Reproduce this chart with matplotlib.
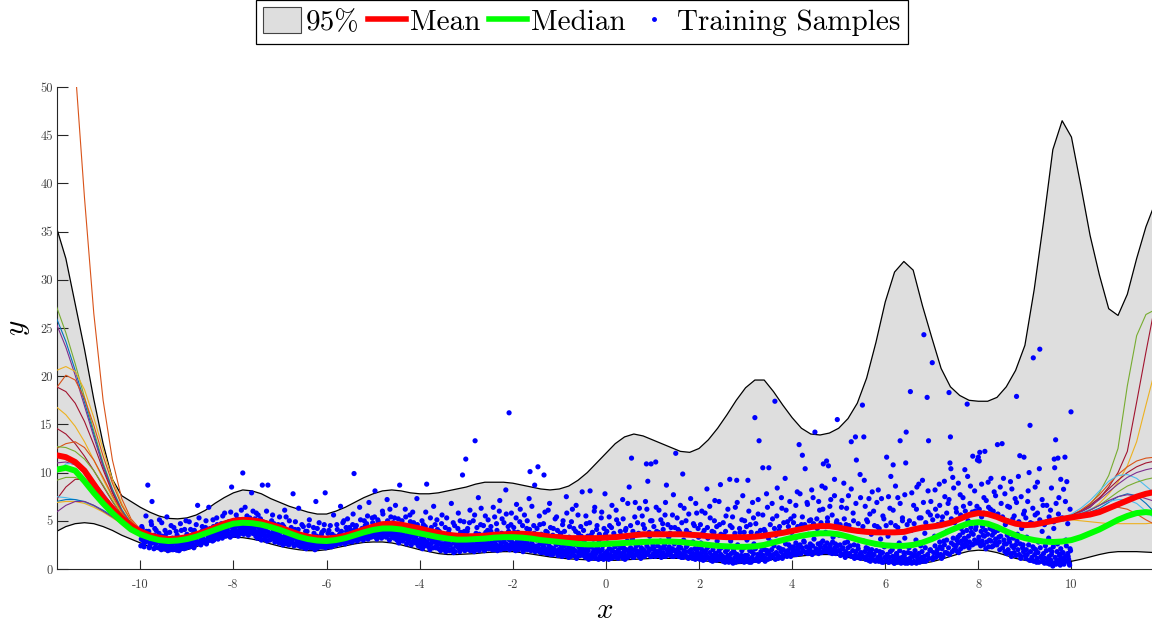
import numpy as np
import matplotlib
matplotlib.use('Agg')
import matplotlib.pyplot as plt
from matplotlib.lines import Line2D
from matplotlib.patches import Patch

plt.rcParams['font.family'] = ['cmr10', 'DejaVu Serif']
plt.rcParams['mathtext.fontset'] = 'cm'
plt.rcParams['axes.unicode_minus'] = False

# prediction grid
x_grid = np.round(np.arange(-11.8, 11.81, 0.2), 1)

upper = [35.4, 32.2, 27.5, 22.8, 17.6, 13.0, 9.3, 7.6, 7.0, 6.4,
         5.9, 5.5, 5.25, 5.2, 5.3, 5.6, 6.1, 6.8, 7.4, 7.9,
         8.2, 8.1, 7.8, 7.3, 6.9, 6.5, 6.2, 5.9, 5.7, 5.7,
         6.0, 6.4, 6.9, 7.4, 7.8, 8.1, 8.2, 8.1, 7.9, 7.8,
         7.8, 7.9, 8.1, 8.3, 8.5, 8.8, 9.0, 9.0, 9.0, 8.9,
         8.7, 8.5, 8.3, 8.2, 8.3, 8.6, 9.2, 10.0, 11.0, 12.0,
         13.0, 13.7, 14.0, 13.8, 13.4, 13.0, 12.6, 12.2, 12.1, 12.5,
         13.4, 14.6, 16.0, 17.5, 18.8, 19.6, 19.6, 18.4, 17.0, 15.7,
         14.6, 14.0, 13.9, 14.1, 14.6, 15.6, 17.2, 19.8, 23.5, 27.7,
         30.8, 31.9, 31.0, 27.3, 24.0, 20.8, 18.9, 18.0, 17.5, 17.4,
         17.4, 17.8, 18.9, 20.6, 23.2, 29.0, 36.0, 43.5, 46.5, 44.8,
         39.8, 34.6, 30.5, 27.0, 26.3, 28.5, 32.2, 35.5, 38.0]

lower = [3.9, 4.4, 4.7, 4.8, 4.7, 4.4, 4.0, 3.5, 3.1, 2.7,
         2.3, 2.0, 1.8, 1.85, 2.0, 2.3, 2.7, 3.0, 3.25, 3.3,
         3.25, 3.1, 2.9, 2.6, 2.35, 2.15, 2.0, 1.9, 1.9, 2.0,
         2.2, 2.4, 2.6, 2.75, 2.8, 2.8, 2.7, 2.5, 2.25, 2.0,
         1.8, 1.6, 1.5, 1.5, 1.55, 1.6, 1.7, 1.75, 1.8, 1.8,
         1.7, 1.55, 1.4, 1.25, 1.15, 1.05, 1.0, 0.95, 0.9, 0.9,
         0.9, 0.95, 1.0, 1.05, 1.1, 1.1, 1.1, 1.1, 1.0, 0.9,
         0.8, 0.7, 0.6, 0.55, 0.6, 0.7, 0.85, 1.0, 1.15, 1.25,
         1.35, 1.45, 1.5, 1.5, 1.4, 1.2, 1.0, 0.85, 0.7, 0.6,
         0.55, 0.5, 0.5, 0.6, 0.75, 1.0, 1.3, 1.6, 1.85, 1.95,
         1.9, 1.7, 1.4, 1.1, 0.9, 0.7, 0.6, 0.6, 0.65, 0.8,
         1.0, 1.25, 1.5, 1.7, 1.8, 1.8, 1.8, 1.75, 1.7]

mean = [11.8, 11.6, 11.1, 10.2, 8.8, 7.4, 6.3, 5.3, 4.5, 3.9,
        3.5, 3.25, 3.1, 3.15, 3.3, 3.6, 3.9, 4.3, 4.7, 5.0,
        5.1, 5.05, 4.9, 4.6, 4.3, 3.95, 3.6, 3.35, 3.2, 3.15,
        3.25, 3.45, 3.75, 4.1, 4.4, 4.65, 4.7, 4.6, 4.4, 4.2,
        3.95, 3.75, 3.55, 3.45, 3.4, 3.4, 3.45, 3.55, 3.6, 3.65,
        3.65, 3.6, 3.5, 3.35, 3.3, 3.2, 3.2, 3.2, 3.2, 3.25,
        3.3, 3.4, 3.5, 3.6, 3.6, 3.6, 3.6, 3.6, 3.55, 3.5,
        3.4, 3.35, 3.3, 3.3, 3.3, 3.35, 3.45, 3.6, 3.75, 3.95,
        4.15, 4.35, 4.45, 4.45, 4.3, 4.1, 3.95, 3.85, 3.8, 3.8,
        3.8, 3.85, 4.1, 4.3, 4.4, 4.55, 4.8, 5.2, 5.6, 5.8,
        5.7, 5.4, 5.0, 4.7, 4.55, 4.6, 4.8, 5.0, 5.2, 5.35,
        5.5, 5.65, 5.9, 6.3, 6.7, 7.1, 7.5, 7.8, 8.0]

median = [10.3, 10.5, 10.2, 9.1, 7.9, 6.8, 5.8, 4.9, 4.1, 3.6,
          3.25, 3.0, 2.9, 2.95, 3.1, 3.35, 3.7, 4.05, 4.4, 4.7,
          4.8, 4.75, 4.6, 4.35, 4.05, 3.7, 3.35, 3.1, 2.95, 2.9,
          3.0, 3.2, 3.5, 3.8, 4.05, 4.2, 4.2, 4.1, 3.9, 3.7,
          3.5, 3.3, 3.15, 3.05, 3.05, 3.1, 3.15, 3.25, 3.3, 3.3,
          3.25, 3.15, 3.0, 2.9, 2.8, 2.7, 2.6, 2.55, 2.55, 2.6,
          2.65, 2.7, 2.75, 2.8, 2.85, 2.85, 2.85, 2.8, 2.7, 2.6,
          2.5, 2.4, 2.35, 2.3, 2.3, 2.35, 2.5, 2.75, 3.0, 3.25,
          3.45, 3.6, 3.7, 3.7, 3.6, 3.35, 3.05, 2.8, 2.6, 2.45,
          2.4, 2.4, 2.5, 2.75, 3.1, 3.55, 4.0, 4.4, 4.75, 4.85,
          4.7, 4.35, 3.9, 3.5, 3.2, 3.0, 2.85, 2.8, 2.85, 3.0,
          3.3, 3.7, 4.1, 4.6, 5.1, 5.5, 5.8, 5.9, 5.8]

# posterior sample paths outside the training range
x_left = np.round(np.arange(-11.8, -9.79, 0.2), 1)
x_right = np.round(np.arange(9.8, 11.81, 0.2), 1)

paths_left = [
    ('#D95319', [80.0, 68.0, 52.0, 38.5, 26.5, 17.5, 11.3, 7.3, 5.2, 4.1, 3.6]),
    ('#77AC30', [27.2, 24.5, 21.3, 17.8, 14.3, 11.0, 8.3, 6.2, 4.8, 4.0, 3.6]),
    ('#0072BD', [26.0, 23.6, 20.6, 17.3, 14.0, 10.8, 8.2, 6.1, 4.7, 4.0, 3.6]),
    ('#7E2F8E', [25.4, 23.0, 20.1, 16.9, 13.7, 10.6, 8.0, 6.0, 4.7, 3.9, 3.5]),
    ('#EDB120', [20.6, 21.0, 20.5, 18.6, 15.7, 12.4, 9.3, 6.8, 5.0, 4.0, 3.6]),
    ('#D95319', [18.8, 20.1, 19.6, 17.7, 14.9, 11.7, 8.9, 6.6, 5.0, 4.0, 3.6]),
    ('#A2142F', [18.9, 18.4, 17.2, 15.3, 12.9, 10.3, 7.9, 5.9, 4.6, 3.9, 3.5]),
    ('#EDB120', [16.8, 16.0, 14.8, 13.2, 11.3, 9.3, 7.4, 5.8, 4.6, 3.9, 3.5]),
    ('#A2142F', [14.6, 14.0, 13.0, 11.7, 10.2, 8.6, 7.0, 5.6, 4.5, 3.8, 3.5]),
    ('#D95319', [12.5, 13.0, 13.2, 12.6, 11.3, 9.5, 7.6, 5.9, 4.6, 3.8, 3.5]),
    ('#77AC30', [12.7, 12.6, 12.2, 11.4, 10.2, 8.7, 7.1, 5.6, 4.5, 3.8, 3.5]),
    ('#7E2F8E', [11.0, 11.1, 10.8, 10.1, 9.1, 7.9, 6.6, 5.4, 4.4, 3.8, 3.5]),
    ('#4DBEEE', [10.0, 10.9, 11.0, 10.3, 9.1, 7.7, 6.3, 5.1, 4.3, 3.7, 3.4]),
    ('#77AC30', [9.2, 9.5, 9.5, 9.1, 8.3, 7.3, 6.2, 5.1, 4.3, 3.7, 3.4]),
    ('#A2142F', [7.2, 8.5, 9.3, 9.3, 8.7, 7.6, 6.4, 5.2, 4.3, 3.7, 3.4]),
    ('#4DBEEE', [7.5, 7.4, 7.2, 6.9, 6.5, 6.0, 5.4, 4.8, 4.2, 3.7, 3.4]),
    ('#0072BD', [7.0, 7.2, 7.2, 7.0, 6.6, 6.1, 5.5, 4.8, 4.2, 3.7, 3.4]),
    ('#EDB120', [6.9, 7.0, 7.0, 6.8, 6.4, 5.9, 5.3, 4.7, 4.1, 3.7, 3.4]),
    ('#7E2F8E', [5.9, 6.6, 7.0, 7.0, 6.6, 6.0, 5.4, 4.7, 4.1, 3.7, 3.4]),
]

paths_right = [
    ('#77AC30', [5.3, 5.5, 5.9, 6.7, 7.9, 9.7, 12.5, 19.0, 24.2, 26.4, 26.9]),
    ('#A2142F', [5.3, 5.5, 5.9, 6.4, 7.3, 8.5, 10.0, 12.2, 17.3, 22.5, 27.5]),
    ('#EDB120', [5.3, 5.4, 5.7, 6.1, 6.8, 7.8, 9.0, 10.7, 13.2, 17.0, 20.7]),
    ('#D95319', [5.3, 5.6, 6.1, 6.8, 7.7, 8.8, 9.8, 10.6, 11.2, 11.5, 11.6]),
    ('#A2142F', [5.3, 5.6, 6.0, 6.6, 7.4, 8.3, 9.2, 10.0, 10.6, 11.0, 11.2]),
    ('#4DBEEE', [5.3, 5.7, 6.3, 7.1, 8.1, 9.1, 9.7, 9.8, 9.4, 8.6, 7.8]),
    ('#7E2F8E', [5.2, 5.5, 5.9, 6.5, 7.2, 8.0, 8.8, 9.5, 10.0, 10.3, 10.5]),
    ('#0072BD', [5.2, 5.4, 5.6, 5.9, 6.3, 6.9, 7.5, 7.8, 7.6, 6.8, 5.8]),
    ('#4DBEEE', [5.2, 5.5, 5.8, 6.2, 6.6, 7.0, 7.2, 7.2, 6.8, 6.0, 5.2]),
    ('#EDB120', [5.1, 5.1, 5.0, 4.9, 4.8, 4.7, 4.7, 4.7, 4.7, 4.7, 4.8]),
    ('#D95319', [5.2, 5.3, 5.5, 5.7, 6.0, 6.3, 6.4, 6.2, 5.7, 5.1, 4.6]),
    ('#77AC30', [5.2, 5.4, 5.7, 6.1, 6.6, 7.3, 8.0, 8.6, 9.0, 9.3, 9.5]),
    ('#7E2F8E', [5.2, 5.4, 5.7, 6.1, 6.6, 7.1, 7.5, 7.7, 7.6, 7.3, 7.0]),
]

# training samples, "x y" pairs: spread-out observations
samples_txt = """
-9.98 3.1 -9.96 4.2 -9.93 2.6 -9.9 3.6 -9.88 5.5 -9.86 2.9 -9.84 8.7 -9.82 3.9 -9.8 2.4 -9.78 3.3 -9.76 4.6 -9.75 7.0
-9.73 2.7 -9.7 3.5 -9.68 2.2 -9.66 4.0 -9.63 2.9 -9.6 3.7 -9.58 2.3 -9.56 3.2 -9.54 4.8 -9.52 2.6 -9.51 3.0
-9.49 2.1 -9.47 3.4 -9.45 2.6 -9.43 5.4 -9.41 1.9 -9.39 2.9 -9.37 3.8 -9.35 2.3 -9.32 3.1 -9.3 2.0 -9.28 4.3 -9.26 2.7
-9.24 2.2 -9.21 3.5 -9.19 2.5 -9.17 1.9 -9.15 3.0 -9.12 4.0 -9.1 2.4 -9.08 2.8 -9.06 2.1 -9.04 3.3 -9.02 5.0
-8.99 2.5 -8.97 3.2 -8.94 2.3 -8.92 4.1 -8.9 2.9 -8.87 3.6 -8.85 2.2 -8.83 3.0 -8.8 4.6 -8.77 6.6 -8.75 2.7 -8.73 3.4
-8.7 2.5 -8.68 3.9 -8.65 3.1 -8.63 2.8 -8.6 4.3 -8.58 2.6 -8.55 3.5 -8.53 6.4 -8.52 3.0
-8.49 3.0 -8.47 3.8 -8.45 2.9 -8.43 4.4 -8.4 3.3 -8.38 3.6 -8.36 5.3 -8.33 3.1 -8.31 4.0 -8.28 3.5 -8.26 4.7 -8.24 3.2
-8.21 3.9 -8.19 5.8 -8.17 3.4 -8.14 4.2 -8.12 3.7 -8.1 4.9 -8.07 3.3 -8.05 4.4 -8.04 8.5 -8.02 3.6
-7.99 3.5 -7.97 4.3 -7.95 3.8 -7.92 5.2 -7.9 3.4 -7.88 4.6 -7.85 4.0 -7.83 6.1 -7.8 9.96 -7.78 3.6 -7.76 4.8 -7.73 4.1
-7.71 5.5 -7.68 3.5 -7.66 4.4 -7.63 3.9 -7.61 7.9 -7.6 5.0 -7.57 3.7 -7.55 4.5 -7.52 3.4 -7.51 5.8
-7.49 3.2 -7.46 4.3 -7.44 3.7 -7.42 5.2 -7.4 3.0 -7.38 8.7 -7.36 4.0 -7.33 3.4 -7.31 4.8 -7.28 2.9 -7.26 8.7 -7.24 3.6
-7.21 4.4 -7.19 3.1 -7.16 5.6 -7.14 3.8 -7.11 2.8 -7.09 4.1 -7.06 3.3 -7.04 4.6 -7.02 2.7
-6.99 3.0 -6.97 3.9 -6.94 2.5 -6.92 4.4 -6.9 6.1 -6.88 3.3 -6.85 2.6 -6.83 3.7 -6.8 5.0 -6.78 2.9 -6.75 3.5 -6.72 7.8
-6.7 2.4 -6.68 4.1 -6.65 3.2 -6.63 2.7 -6.6 6.3 -6.58 3.6 -6.55 2.3 -6.53 4.6 -6.51 3.0
-6.49 2.4 -6.47 3.3 -6.44 2.1 -6.42 3.9 -6.4 2.7 -6.37 5.1 -6.35 2.2 -6.32 3.0 -6.3 2.5 -6.28 4.3 -6.25 2.0 -6.23 7.0
-6.21 3.4 -6.18 2.6 -6.16 4.8 -6.13 2.3 -6.11 3.6 -6.08 2.8 -6.06 4.0 -6.03 7.9 -6.01 2.4
-5.99 2.9 -5.97 3.7 -5.94 2.3 -5.92 4.5 -5.9 3.1 -5.87 2.6 -5.85 5.6 -5.82 3.4 -5.8 2.5 -5.77 4.1 -5.75 2.9 -5.72 3.6
-5.7 6.5 -5.67 2.7 -5.65 4.8 -5.62 3.2 -5.6 2.6 -5.57 3.9 -5.55 5.2 -5.53 2.9 -5.51 4.3
-5.49 3.1 -5.47 4.0 -5.45 2.8 -5.43 5.7 -5.41 9.9 -5.39 3.5 -5.36 4.5 -5.34 2.9 -5.31 3.8 -5.29 6.4 -5.26 3.2 -5.24 4.2
-5.21 3.0 -5.19 5.0 -5.16 3.6 -5.14 4.7 -5.11 3.1 -5.09 6.9 -5.06 3.9 -5.04 3.3 -5.02 5.3
-4.99 3.4 -4.96 8.1 -4.94 4.3 -4.92 3.1 -4.9 5.1 -4.87 3.7 -4.85 4.6 -4.82 3.2 -4.8 6.0 -4.77 3.9 -4.75 4.4 -4.72 3.3
-4.7 7.2 -4.67 4.1 -4.65 3.0 -4.62 5.4 -4.6 3.6 -4.57 4.8 -4.55 3.2 -4.52 6.6 -4.51 3.8
-4.49 3.0 -4.47 4.2 -4.45 2.7 -4.43 8.7 -4.41 3.5 -4.38 5.0 -4.36 2.9 -4.33 3.9 -4.31 6.2 -4.28 2.6 -4.26 4.4 -4.23 3.2
-4.21 5.6 -4.18 2.5 -4.16 3.7 -4.13 4.8 -4.11 2.8 -4.08 3.4 -4.06 7.3 -4.03 2.4 -4.01 4.1
-3.99 2.3 -3.97 3.6 -3.94 2.1 -3.92 4.6 -3.9 3.0 -3.87 5.9 -3.85 8.8 -3.83 2.5 -3.8 3.8 -3.78 2.0 -3.75 4.3 -3.73 2.8
-3.7 6.5 -3.68 3.3 -3.65 2.2 -3.63 5.1 -3.6 2.6 -3.58 3.9 -3.55 1.9 -3.53 4.7 -3.51 3.1
-3.49 2.2 -3.47 3.5 -3.44 1.8 -3.42 5.3 -3.4 2.7 -3.37 4.1 -3.35 2.0 -3.32 6.8 -3.3 3.0 -3.27 1.7 -3.25 4.5 -3.22 2.4
-3.2 3.4 -3.17 5.8 -3.15 2.1 -3.12 3.8 -3.1 2.6 -3.08 9.75 -3.05 4.9 -3.03 1.9 -3.01 11.4
-2.99 2.9 -2.97 4.2 -2.94 2.0 -2.92 6.1 -2.9 3.3 -2.87 2.4 -2.85 5.0 -2.83 1.8 -2.81 13.3 -2.79 3.7 -2.76 2.2 -2.74 7.4
-2.71 3.0 -2.69 4.6 -2.66 2.5 -2.64 3.5 -2.61 1.9 -2.59 5.5 -2.56 2.8 -2.54 4.0 -2.52 2.1
-2.49 2.6 -2.47 3.9 -2.44 2.0 -2.42 6.4 -2.4 3.2 -2.37 2.3 -2.35 4.7 -2.33 1.9 -2.3 3.6 -2.28 7.1 -2.25 2.7 -2.23 5.2
-2.2 2.1 -2.17 3.4 -2.15 8.2 -2.13 2.5 -2.1 4.4 -2.08 16.2 -2.06 3.0 -2.03 5.8 -2.01 2.2
-1.99 2.4 -1.97 3.8 -1.94 1.9 -1.92 6.7 -1.9 3.1 -1.87 2.2 -1.85 4.9 -1.83 2.8 -1.8 3.5 -1.78 1.8 -1.75 5.6 -1.73 2.6
-1.7 4.2 -1.68 2.0 -1.65 7.3 -1.63 10.1 -1.6 3.3 -1.58 2.3 -1.55 4.5 -1.53 8.7 -1.51 1.9
-1.49 3.0 -1.46 10.6 -1.44 2.1 -1.42 4.6 -1.4 1.7 -1.37 3.4 -1.35 2.5 -1.33 9.75 -1.31 5.9 -1.28 1.6 -1.26 3.8 -1.23 2.2
-1.21 6.8 -1.18 1.5 -1.16 2.9 -1.13 4.2 -1.11 1.9 -1.08 3.3 -1.06 5.4 -1.03 1.4 -1.01 2.6
-0.99 2.0 -0.97 3.7 -0.94 1.3 -0.92 5.0 -0.9 2.4 -0.87 1.6 -0.85 7.5 -0.83 3.1 -0.8 1.2 -0.78 4.4 -0.75 2.1 -0.72 6.2
-0.7 1.5 -0.68 2.8 -0.65 3.9 -0.63 1.1 -0.6 5.6 -0.58 2.3 -0.55 1.4 -0.53 3.4 -0.51 8.0
-0.49 1.8 -0.47 2.9 -0.44 1.2 -0.42 4.7 -0.4 2.2 -0.37 1.0 -0.34 8.1 -0.32 3.5 -0.3 1.5 -0.27 2.6 -0.25 6.0 -0.22 1.1
-0.2 4.1 -0.17 1.9 -0.15 3.0 -0.12 1.3 -0.1 5.3 -0.07 2.4 -0.05 1.0 -0.02 7.8 -0.01 3.6
0.01 1.4 0.03 2.7 0.06 1.0 0.08 4.5 0.11 2.0 0.13 6.6 0.16 1.2 0.18 3.3 0.21 1.7 0.23 5.1 0.26 1.1 0.28 2.5
0.31 3.9 0.33 1.5 0.36 7.2 0.38 2.2 0.41 1.0 0.43 4.2 0.46 2.9 0.48 1.3 0.5 8.5
0.52 1.9 0.55 11.5 0.57 3.1 0.6 1.2 0.62 5.4 0.65 2.4 0.67 1.5 0.7 3.7 0.72 6.3 0.75 1.1 0.77 2.8 0.8 4.6
0.82 1.7 0.85 7.0 0.87 10.9 0.9 9.1 0.92 2.1 0.94 3.4 0.97 10.9 0.98 1.3 0.99 5.0
1.01 2.5 1.04 1.4 1.07 11.1 1.09 3.9 1.12 1.8 1.14 6.1 1.17 2.9 1.19 1.2 1.22 4.7 1.24 2.2 1.27 5.6 1.3 8.7
1.32 1.5 1.35 3.3 1.37 2.0 1.4 4.3 1.42 1.3 1.45 7.7 1.47 2.6 1.49 3.6
1.5 12.0 1.52 1.6 1.55 4.1 1.57 2.3 1.6 6.6 1.62 1.2 1.65 9.85 1.67 3.0 1.7 1.8 1.72 5.0 1.75 2.5 1.77 1.1
1.8 3.7 1.82 7.3 1.85 1.5 1.87 2.8 1.9 4.5 1.92 1.0 1.95 5.8 1.97 2.1 1.99 3.3
2.01 1.4 2.04 2.7 2.06 6.0 2.09 0.9 2.11 4.0 2.14 1.9 2.17 8.3 2.19 3.2 2.22 1.1 2.24 5.3 2.27 2.4 2.29 0.8
2.32 3.8 2.34 7.1 2.37 1.6 2.39 2.9 2.42 1.0 2.44 4.6 2.46 8.75 2.48 2.2
2.51 1.3 2.53 3.5 2.56 0.7 2.58 5.5 2.61 2.0 2.63 1.0 2.66 9.3 2.68 2.9 2.71 4.3 2.73 0.6 2.76 1.7 2.78 6.4
2.81 9.2 2.83 2.5 2.86 0.8 2.88 3.8 2.91 1.4 2.94 7.6 2.96 2.2 2.98 5.0
3.01 1.1 3.03 3.0 3.05 9.2 3.08 0.7 3.1 4.6 3.13 1.8 3.15 6.9 3.18 2.6 3.2 15.7 3.22 0.9 3.25 3.7 3.27 5.7
3.29 13.3 3.32 1.5 3.34 2.3 3.37 10.5 3.4 4.1 3.42 0.8 3.45 7.8 3.47 1.9 3.49 3.2
3.5 10.5 3.52 1.2 3.55 2.8 3.58 5.2 3.6 1.5 3.63 17.4 3.65 3.5 3.68 8.4 3.7 1.1 3.73 4.4 3.75 2.1 3.78 6.3
3.8 1.4 3.83 3.0 3.85 9.4 3.88 1.8 3.9 4.9 3.93 2.5 3.95 7.0 3.97 1.3 3.99 3.8
4.01 2.0 4.04 5.5 4.06 1.5 4.09 3.3 4.11 8.0 4.13 2.4 4.15 12.9 4.18 1.6 4.2 4.6 4.22 11.8 4.25 2.9 4.28 10.4
4.3 1.7 4.33 6.7 4.35 3.6 4.38 2.2 4.4 5.1 4.43 1.5 4.45 7.4 4.47 3.1 4.49 14.2
4.52 2.0 4.54 4.2 4.57 1.6 4.59 6.1 4.62 2.7 4.64 8.6 4.67 10.9 4.69 1.8 4.72 3.8 4.74 11.2 4.76 5.3 4.78 10.7
4.81 2.3 4.83 7.2 4.86 1.6 4.88 3.3 4.91 9.3 4.93 2.6 4.95 4.8 4.97 15.5 4.99 1.9
5.01 3.5 5.04 1.4 5.06 6.4 5.09 2.2 5.11 8.9 5.14 1.2 5.16 4.6 5.19 2.8 5.21 7.6 5.24 1.5 5.27 13.2 5.29 3.2
5.31 5.8 5.34 1.1 5.36 13.7 5.38 11.3 5.41 2.4 5.43 4.0 5.46 9.8 5.48 1.7
5.51 17.0 5.53 2.9 5.54 13.7 5.55 9.2 5.58 1.0 5.6 5.1 5.63 2.1 5.65 7.3 5.68 0.8 5.7 3.6 5.73 1.5 5.75 6.0
5.78 2.6 5.8 0.9 5.83 4.4 5.85 8.2 5.88 1.8 5.9 3.1 5.93 0.7 5.95 5.5 5.98 2.3
6.01 1.2 6.03 11.6 6.06 3.4 6.08 0.7 6.1 6.3 6.12 9.6 6.15 2.0 6.17 10.8 6.2 0.6 6.22 4.5 6.25 1.4 6.27 7.4
6.3 2.7 6.32 13.3 6.35 0.8 6.37 5.0 6.4 1.7 6.42 3.2 6.44 11.0 6.45 14.2 6.48 0.6
6.51 2.2 6.54 18.4 6.56 4.0 6.58 0.7 6.61 6.6 6.63 1.5 6.66 3.0 6.68 8.5 6.71 0.9 6.73 5.3 6.76 2.4 6.78 1.2
6.8 9.2 6.83 24.3 6.85 3.7 6.87 0.8 6.9 17.8 6.92 5.9 6.93 13.3 6.96 1.9 6.98 7.0
7.01 21.4 7.03 1.2 7.06 3.4 7.08 6.2 7.11 1.6 7.13 4.6 7.16 8.8 7.18 2.3 7.21 1.1 7.23 5.4 7.26 2.9 7.28 7.5
7.31 1.7 7.33 3.9 7.35 6.8 7.37 18.3 7.39 11.0 7.4 13.7 7.41 10.4 7.45 9.5 7.47 2.5 7.49 4.8
7.51 2.0 7.53 5.9 7.56 3.3 7.58 1.7 7.61 7.7 7.63 4.2 7.66 2.5 7.68 6.5 7.71 10.3 7.73 3.0 7.76 17.1 7.78 5.0
7.8 2.2 7.83 8.6 7.85 3.8 7.88 11.7 7.9 2.6 7.93 6.0 7.95 4.4 7.98 11.3 7.99 2.9
8.0 11.6 8.02 11.2 8.03 12.1 8.05 2.4 8.07 5.4 8.1 3.5 8.12 7.4 8.14 12.2 8.16 2.1 8.19 4.7 8.21 9.0 8.24 3.0
8.26 6.2 8.29 2.3 8.31 4.0 8.34 8.0 8.36 2.7 8.39 5.6 8.41 12.9 8.44 3.3 8.46 2.0 8.49 6.8
8.51 13.0 8.54 9.4 8.56 2.6 8.58 4.6 8.61 1.6 8.63 6.5 8.66 3.1 8.69 9.06 8.71 1.3 8.74 5.2 8.76 2.2 8.79 7.3
8.82 17.9 8.84 3.6 8.86 9.6 8.89 11.75 8.91 1.1 8.93 4.2 8.96 2.5 8.98 11.6 8.99 6.0
9.01 1.4 9.04 3.3 9.06 7.0 9.09 10.0 9.11 14.9 9.13 0.9 9.16 4.7 9.18 21.9 9.2 2.1 9.22 8.5 9.25 0.7 9.27 5.8
9.29 2.8 9.31 10.4 9.32 22.8 9.34 1.2 9.37 3.9 9.39 6.6 9.42 0.6 9.44 2.4 9.47 4.9 9.49 1.0
9.51 3.2 9.53 0.5 9.55 6.1 9.58 1.8 9.6 0.3 9.62 4.2 9.63 11.4 9.64 10.5 9.66 13.4 9.68 0.8 9.7 2.6 9.71 11.5
9.73 7.4 9.76 0.4 9.78 1.6 9.8 5.3 9.83 8.27 9.85 0.9 9.86 11.6 9.88 3.0 9.9 9.06 9.93 1.3 9.95 0.6 9.97 2.1 9.99 16.3
"""

# training samples, "x y" pairs: the dense layer just above the lower bound
dense_txt = """
-9.99 2.4 -9.95 3.0 -9.92 2.3 -9.89 2.8 -9.85 3.4 -9.81 2.2 -9.79 2.7 -9.74 3.1 -9.71 2.1 -9.67 2.6 -9.64 3.3 -9.61 2.2
-9.57 2.7 -9.55 2.0 -9.53 3.4 -9.5 2.4
-9.48 2.3 -9.46 2.9 -9.42 2.2 -9.4 2.6 -9.36 2.0 -9.33 2.5 -9.31 3.2 -9.27 2.2 -9.25 2.9 -9.22 1.95 -9.2 2.4 -9.16 2.6
-9.13 2.1 -9.11 3.1 -9.07 2.3 -9.03 2.7 -9.01 2.2
-8.98 2.3 -8.96 2.7 -8.93 3.0 -8.91 2.4 -8.88 2.6 -8.86 3.3 -8.82 2.5 -8.79 2.9 -8.76 3.5 -8.72 2.6 -8.69 3.0 -8.66 2.8
-8.64 3.6 -8.61 3.0 -8.57 2.8 -8.54 3.3 -8.51 3.7
-8.48 3.2 -8.46 3.5 -8.42 3.0 -8.39 3.9 -8.37 3.3 -8.34 3.7 -8.32 3.4 -8.29 4.2 -8.27 3.5 -8.25 3.9 -8.22 3.6 -8.2 4.4
-8.16 3.8 -8.13 4.0 -8.11 3.5 -8.08 4.5 -8.03 3.9 -8.01 4.2
-7.98 3.8 -7.96 4.1 -7.93 3.6 -7.91 4.5 -7.89 3.9 -7.86 4.3 -7.84 3.7 -7.81 4.7 -7.79 4.0 -7.77 4.4 -7.74 3.8 -7.72 4.2
-7.69 4.6 -7.67 3.9 -7.64 4.1 -7.62 4.4 -7.59 3.7 -7.56 4.2 -7.53 3.9 -7.5 4.5
-7.48 3.6 -7.45 3.9 -7.43 3.3 -7.41 4.2 -7.39 3.5 -7.35 3.7 -7.32 3.1 -7.3 4.0 -7.27 3.4 -7.25 3.8 -7.22 3.0 -7.2 3.6
-7.17 3.3 -7.15 3.9 -7.12 3.1 -7.1 3.5 -7.07 2.9 -7.05 3.7 -7.03 3.2 -7.0 3.4
-6.98 2.8 -6.96 3.3 -6.93 3.0 -6.91 2.6 -6.89 3.5 -6.86 2.9 -6.84 3.2 -6.81 2.5 -6.79 3.4 -6.77 2.8 -6.74 3.0 -6.71 2.6
-6.69 3.3 -6.66 2.5 -6.64 2.9 -6.62 3.1 -6.59 2.4 -6.57 2.8 -6.54 3.2 -6.52 2.6
-6.48 2.2 -6.46 2.8 -6.43 2.5 -6.41 3.1 -6.39 2.3 -6.36 2.7 -6.34 2.9 -6.31 2.2 -6.29 2.6 -6.26 3.0 -6.24 2.4 -6.22 2.7
-6.19 2.2 -6.17 2.9 -6.14 2.5 -6.12 3.1 -6.09 2.3 -6.07 2.6 -6.04 2.9 -6.02 2.2
-5.98 2.4 -5.96 2.9 -5.93 2.6 -5.91 3.2 -5.89 2.3 -5.86 2.8 -5.84 3.0 -5.81 2.5 -5.79 3.3 -5.76 2.7 -5.74 3.1 -5.71 2.6
-5.69 3.0 -5.66 2.8 -5.64 3.4 -5.61 2.7 -5.59 3.1 -5.56 2.9 -5.54 3.5 -5.52 2.8
-5.48 2.9 -5.46 3.3 -5.44 3.1 -5.42 3.7 -5.4 3.0 -5.37 3.4 -5.35 3.9 -5.33 3.2 -5.3 3.6 -5.28 3.1 -5.25 4.0 -5.23 3.4
-5.2 3.8 -5.18 3.3 -5.15 4.1 -5.13 3.5 -5.1 3.9 -5.08 3.3 -5.05 4.2 -5.03 3.6
-4.98 3.7 -4.95 3.3 -4.93 4.0 -4.91 3.5 -4.88 4.2 -4.86 3.4 -4.83 3.9 -4.81 3.6 -4.78 4.3 -4.76 3.5 -4.73 4.0 -4.71 3.4
-4.68 3.8 -4.66 4.4 -4.63 3.5 -4.61 4.0 -4.58 3.3 -4.56 3.9 -4.53 3.6 -4.5 4.2
-4.48 3.4 -4.46 3.8 -4.44 3.2 -4.42 4.1 -4.39 3.0 -4.37 3.6 -4.34 3.3 -4.32 4.0 -4.29 3.1 -4.27 3.5 -4.24 2.9 -4.22 3.8
-4.19 3.3 -4.17 2.8 -4.14 3.6 -4.12 3.1 -4.09 2.7 -4.07 3.5 -4.04 3.0 -4.02 2.6
-3.98 2.9 -3.96 3.3 -3.93 2.6 -3.91 3.1 -3.89 2.4 -3.86 3.5 -3.84 2.8 -3.81 2.3 -3.79 3.2 -3.76 2.6 -3.74 3.0 -3.71 2.2
-3.69 2.8 -3.66 3.3 -3.64 2.4 -3.61 2.9 -3.59 2.1 -3.56 2.6 -3.54 3.1 -3.52 2.3
-3.48 2.6 -3.46 2.0 -3.43 3.0 -3.41 2.3 -3.39 2.8 -3.36 1.9 -3.34 2.5 -3.31 3.2 -3.29 2.1 -3.26 2.7 -3.24 1.8 -3.21 2.9
-3.19 2.3 -3.16 2.6 -3.14 1.8 -3.11 3.1 -3.09 2.2 -3.06 2.7 -3.04 2.0 -3.02 2.5
-2.98 2.1 -2.96 2.6 -2.93 2.4 -2.91 1.9 -2.89 2.8 -2.86 2.2 -2.84 3.0 -2.82 2.5 -2.8 2.0 -2.77 2.7 -2.75 2.3 -2.72 1.9
-2.7 2.6 -2.67 2.2 -2.65 2.9 -2.62 2.4 -2.6 2.0 -2.57 2.6 -2.55 2.3 -2.53 3.1
-2.48 2.2 -2.46 2.7 -2.43 2.4 -2.41 2.0 -2.38 2.9 -2.36 2.5 -2.34 2.2 -2.31 3.0 -2.29 2.4 -2.26 2.0 -2.24 2.7 -2.21 2.3
-2.19 2.9 -2.16 2.1 -2.14 2.6 -2.11 2.3 -2.09 3.1 -2.07 2.0 -2.04 2.5 -2.02 2.8
-1.98 2.1 -1.96 2.6 -1.93 2.3 -1.91 2.8 -1.88 2.0 -1.86 2.5 -1.84 2.2 -1.81 3.0 -1.79 2.4 -1.76 2.0 -1.74 2.7 -1.71 2.3
-1.69 2.9 -1.66 2.1 -1.64 2.5 -1.61 1.9 -1.59 2.7 -1.56 2.2 -1.54 2.4 -1.52 1.8
-1.48 2.0 -1.47 2.4 -1.43 1.8 -1.41 2.6 -1.38 2.1 -1.36 1.7 -1.34 2.3 -1.32 1.9 -1.29 2.7 -1.27 2.0 -1.24 1.6 -1.22 2.4
-1.19 1.9 -1.17 2.2 -1.14 1.5 -1.12 2.1 -1.09 1.8 -1.07 2.5 -1.04 1.6 -1.02 2.0
-0.98 1.7 -0.96 2.2 -0.93 1.5 -0.91 1.9 -0.88 2.5 -0.86 1.4 -0.84 2.0 -0.81 1.7 -0.79 2.3 -0.76 1.3 -0.74 1.8 -0.71 2.1
-0.69 1.4 -0.66 1.9 -0.64 2.5 -0.61 1.3 -0.59 1.7 -0.56 2.0 -0.54 1.5 -0.52 2.2
-0.48 1.4 -0.46 2.0 -0.43 1.6 -0.41 1.2 -0.38 1.9 -0.36 1.4 -0.33 2.3 -0.31 1.1 -0.28 1.7 -0.26 2.0 -0.23 1.3 -0.21 1.6
-0.18 2.2 -0.16 1.0 -0.13 1.8 -0.11 1.4 -0.08 2.0 -0.06 1.2 -0.03 1.6 -0.01 1.1
0.02 1.8 0.04 1.2 0.07 2.1 0.09 1.5 0.12 1.1 0.14 1.9 0.17 1.4 0.19 2.3 0.22 1.2 0.24 1.7 0.27 2.0 0.29 1.3
0.32 1.6 0.34 2.2 0.37 1.1 0.39 1.8 0.42 1.4 0.44 2.0 0.47 1.2 0.49 1.7
0.51 1.4 0.53 2.2 0.56 1.6 0.58 1.2 0.61 2.0 0.63 1.5 0.66 1.9 0.68 2.5 0.71 1.3 0.73 1.8 0.76 2.2 0.78 1.4
0.81 2.0 0.83 1.3 0.86 1.7 0.88 2.4 0.91 1.5 0.93 1.9 0.96 1.3 0.98 2.1
1.02 1.6 1.03 2.1 1.06 1.3 1.08 1.8 1.11 2.4 1.13 1.4 1.16 1.9 1.18 2.2 1.21 1.5 1.23 1.7 1.26 2.5 1.28 1.3
1.31 2.0 1.33 1.6 1.36 2.3 1.38 1.4 1.41 1.8 1.43 2.1 1.46 1.3 1.48 1.9
1.51 1.4 1.53 2.0 1.56 1.3 1.58 1.7 1.61 2.2 1.63 1.5 1.66 1.2 1.68 1.9 1.71 1.4 1.73 2.3 1.76 1.2 1.78 1.8
1.81 1.3 1.83 2.0 1.86 1.1 1.88 1.6 1.91 2.1 1.93 1.3 1.96 1.7 1.98 1.2
2.02 1.0 2.03 1.6 2.05 2.1 2.08 1.3 2.1 1.8 2.13 1.0 2.15 1.5 2.18 2.2 2.2 1.2 2.23 1.7 2.25 0.9 2.28 1.4
2.3 2.0 2.33 1.1 2.35 1.6 2.38 0.9 2.4 1.3 2.43 1.9 2.45 1.0 2.47 1.5
2.52 0.8 2.54 1.2 2.57 1.8 2.59 1.0 2.62 1.4 2.64 0.7 2.67 1.1 2.69 1.6 2.72 0.9 2.74 2.0 2.77 1.2 2.79 0.7
2.82 1.5 2.84 1.0 2.87 1.3 2.89 0.8 2.92 1.9 2.93 1.1 2.97 0.7 2.99 1.4
3.02 0.8 3.04 1.4 3.07 1.0 3.09 1.9 3.12 0.7 3.14 1.2 3.17 1.6 3.19 0.9 3.21 2.1 3.24 1.1 3.26 1.5 3.28 0.8
3.31 1.3 3.33 1.8 3.36 1.0 3.38 1.4 3.41 2.0 3.43 1.1 3.46 1.6 3.48 1.0
3.51 1.6 3.53 1.1 3.56 2.0 3.59 1.3 3.61 2.4 3.64 1.0 3.66 1.7 3.69 1.4 3.71 2.2 3.74 1.2 3.76 1.8 3.79 1.1
3.81 2.0 3.84 1.5 3.86 2.6 3.89 1.3 3.91 1.9 3.94 1.6 3.96 2.3 3.98 1.5
4.02 1.7 4.03 2.3 4.05 1.9 4.08 2.7 4.1 1.5 4.12 2.1 4.14 1.8 4.17 2.5 4.19 1.6 4.21 2.2 4.24 1.9 4.26 2.8
4.29 1.7 4.31 2.3 4.34 1.6 4.36 2.0 4.39 2.6 4.41 1.8 4.44 2.4 4.46 1.7
4.51 2.1 4.53 1.7 4.56 2.6 4.58 1.9 4.61 2.3 4.63 1.7 4.66 2.9 4.68 2.0 4.71 2.4 4.73 1.8 4.75 2.7 4.77 2.1
4.8 1.7 4.82 2.5 4.85 2.0 4.87 2.8 4.9 1.8 4.92 2.2 4.94 1.6 4.98 2.4
5.02 1.9 5.03 2.5 5.05 1.6 5.08 2.1 5.1 1.5 5.13 2.7 5.15 1.8 5.18 1.4 5.2 2.2 5.23 1.6 5.25 2.4 5.28 1.3
5.3 1.9 5.33 2.5 5.35 1.4 5.37 1.8 5.4 1.2 5.42 2.1 5.45 1.5 5.47 1.1
5.52 1.3 5.56 1.8 5.57 1.1 5.59 2.2 5.62 1.4 5.64 0.9 5.66 1.7 5.69 1.2 5.71 2.0 5.74 1.0 5.76 1.5 5.79 0.8
5.81 1.9 5.84 1.2 5.86 0.8 5.89 1.4 5.91 1.0 5.94 1.7 5.96 0.7 5.99 1.2
6.02 0.9 6.04 1.5 6.07 0.7 6.09 1.2 6.11 1.8 6.14 0.8 6.16 1.3 6.19 0.6 6.21 1.0 6.24 1.6 6.26 0.7 6.29 1.1
6.31 1.9 6.34 0.6 6.36 1.2 6.39 0.9 6.41 1.4 6.43 0.6 6.46 1.0 6.49 1.7
6.52 0.7 6.53 1.1 6.55 1.6 6.57 0.6 6.6 1.3 6.62 0.8 6.64 1.9 6.67 0.6 6.69 1.2 6.72 1.6 6.74 0.7 6.77 1.0
6.79 1.8 6.82 0.8 6.84 1.3 6.86 2.2 6.89 0.9 6.91 1.5 6.94 1.1 6.97 2.0
7.02 1.0 7.04 1.7 7.07 2.4 7.09 1.2 7.12 2.0 7.14 1.4 7.17 2.8 7.19 1.5 7.22 2.1 7.24 1.3 7.27 2.5 7.29 1.7
7.32 3.0 7.34 1.6 7.36 2.2 7.38 1.5 7.42 2.7 7.44 1.8 7.46 3.2 7.48 2.0
7.52 2.4 7.54 3.0 7.55 1.8 7.57 2.7 7.6 3.5 7.62 2.1 7.64 2.9 7.67 3.8 7.69 2.3 7.7 3.2 7.72 2.6 7.75 4.0
7.77 2.4 7.79 3.4 7.81 2.8 7.84 4.3 7.87 2.5 7.89 3.6 7.92 3.0 7.94 4.1 7.97 2.7
8.01 3.3 8.04 2.6 8.06 3.9 8.08 2.9 8.09 4.4 8.11 2.5 8.13 3.4 8.15 4.0 8.18 2.8 8.2 3.6 8.22 2.3 8.25 4.2
8.27 2.9 8.3 3.5 8.32 2.4 8.35 3.8 8.37 3.1 8.4 2.5 8.42 4.0 8.45 2.8 8.48 3.4
8.52 2.2 8.55 3.0 8.57 1.8 8.6 2.6 8.62 3.5 8.64 2.0 8.67 2.8 8.7 1.6 8.72 2.4 8.75 3.2 8.77 1.7 8.8 2.5
8.81 1.4 8.83 2.9 8.85 2.0 8.88 1.5 8.9 2.6 8.92 1.3 8.95 2.2 8.97 1.8
9.02 1.1 9.03 2.0 9.05 1.5 9.08 2.5 9.1 0.9 9.12 1.8 9.15 1.2 9.17 2.3 9.19 0.8 9.21 1.5 9.23 2.0 9.26 1.1
9.28 1.7 9.3 0.7 9.33 2.2 9.35 1.3 9.38 0.8 9.4 1.6 9.43 1.1 9.46 1.9 9.48 0.6
9.52 1.3 9.54 2.0 9.56 0.9 9.57 1.5 9.59 0.6 9.61 2.3 9.65 1.2 9.67 0.5 9.69 1.8 9.72 0.9 9.74 1.4 9.75 0.6
9.77 2.1 9.79 1.1 9.81 0.7 9.82 1.7 9.84 0.5 9.87 1.3 9.89 2.4 9.91 0.8 9.92 1.6 9.94 1.0 9.96 0.4 9.98 1.9
"""

# training samples, "x y" pairs: the band just above the mean
mid_txt = """
-9.97 4.4 -9.87 3.9 -9.77 4.9 -9.69 4.2 -9.59 5.1 -9.47 4.0 -9.44 3.7 -9.34 4.5 -9.23 3.9 -9.14 4.7 -9.05 4.1 -9.0 3.6
-8.95 4.9 -8.84 4.0 -8.74 5.3 -8.67 4.4 -8.59 5.0 -8.5 4.2 -8.44 5.1 -8.35 4.6 -8.23 5.5 -8.15 4.8 -8.06 5.9 -8.0 5.0
-7.94 5.6 -7.87 5.1 -7.75 6.4 -7.65 5.3 -7.58 6.0 -7.54 5.2 -7.47 5.6 -7.37 4.9 -7.29 6.0 -7.18 5.0 -7.13 4.7 -7.01 5.4
-6.95 4.6 -6.87 5.4 -6.76 4.3 -6.67 4.9 -6.61 4.1 -6.5 4.4 -6.45 3.9 -6.38 4.5 -6.27 3.7 -6.2 4.2 -6.1 3.8 -6.05 4.6
-5.95 4.0 -5.88 3.6 -5.78 4.6 -5.68 3.9 -5.63 5.0 -5.58 4.3 -5.44 4.6 -5.38 4.2 -5.27 5.1 -5.17 4.5 -5.12 5.5 -5.01 4.8
-4.97 5.4 -4.89 4.9 -4.79 5.7 -4.69 5.0 -4.64 6.2 -4.54 5.3 -4.46 5.2 -4.4 4.7 -4.3 5.4 -4.2 4.9 -4.15 5.9 -4.05 4.6
-3.95 5.0 -3.88 4.4 -3.77 5.3 -3.67 4.6 -3.62 4.1 -3.52 5.6 -3.45 4.3 -3.38 3.8 -3.28 4.8 -3.18 4.2 -3.13 5.0 -3.04 3.9
-2.98 3.9 -2.93 4.8 -2.88 3.3 -2.82 5.6 -2.77 4.3 -2.72 3.6 -2.68 6.3 -2.63 4.5 -2.58 3.8 -2.53 5.1
-2.47 4.4 -2.43 3.5 -2.39 5.4 -2.34 4.0 -2.29 6.0 -2.24 3.7 -2.19 4.8 -2.14 5.7 -2.09 3.9 -2.04 4.6
-1.98 4.3 -1.93 5.3 -1.89 3.8 -1.84 6.2 -1.79 4.5 -1.74 3.6 -1.69 5.0 -1.64 4.1 -1.59 6.5 -1.54 3.7
-1.48 4.2 -1.43 5.5 -1.39 3.6 -1.34 4.7 -1.29 3.9 -1.24 6.1 -1.19 4.3 -1.14 3.5 -1.09 5.2 -1.04 4.0
-0.98 3.6 -0.93 4.6 -0.89 3.9 -0.84 5.8 -0.79 3.3 -0.74 4.9 -0.69 4.2 -0.64 6.6 -0.59 3.7 -0.54 4.4
-0.48 4.0 -0.43 5.5 -0.39 3.4 -0.35 4.8 -0.29 3.8 -0.24 6.4 -0.19 4.5 -0.14 3.6 -0.09 5.9 -0.04 4.2
0.02 3.9 0.07 5.4 0.12 4.3 0.17 3.7 0.22 6.1 0.27 4.7 0.32 3.5 0.37 5.2 0.42 4.0 0.47 6.8
0.53 4.5 0.58 3.9 0.63 6.9 0.68 4.8 0.73 3.6 0.78 5.5 0.83 4.2 0.88 6.2 0.93 3.8 0.96 5.0
1.03 4.4 1.08 6.4 1.13 3.8 1.18 5.1 1.23 4.1 1.28 6.9 1.33 4.6 1.38 3.7 1.43 5.6 1.48 4.3
1.53 5.3 1.58 3.9 1.63 4.8 1.68 6.3 1.73 4.0 1.78 5.7 1.83 3.6 1.88 4.7 1.93 6.8 1.98 4.2
2.03 4.6 2.08 3.7 2.13 5.8 2.18 4.3 2.23 6.5 2.28 3.9 2.33 5.0 2.38 4.4 2.43 7.0 2.47 3.6
2.52 4.8 2.57 3.9 2.62 6.2 2.67 4.5 2.72 5.4 2.77 3.7 2.82 6.9 2.87 4.2 2.92 5.1 2.97 3.8
3.02 4.4 3.07 6.0 3.12 3.8 3.17 5.3 3.22 4.7 3.27 7.2 3.32 4.0 3.37 5.6 3.42 3.9 3.47 6.4
3.53 4.6 3.57 6.8 3.62 4.2 3.67 5.5 3.72 4.0 3.77 7.4 3.82 4.8 3.87 6.1 3.92 4.4 3.97 5.2
4.03 4.8 4.08 6.6 4.12 4.4 4.17 7.8 4.22 5.4 4.27 4.6 4.32 6.9 4.37 5.0 4.42 8.2 4.46 4.7
4.53 5.2 4.57 7.0 4.62 4.8 4.66 6.2 4.71 8.4 4.76 4.9 4.81 6.5 4.86 5.6 4.91 7.6 4.96 5.0
5.03 4.6 5.07 7.1 5.12 5.2 5.17 6.3 5.22 4.5 5.27 8.3 5.32 5.0 5.37 6.8 5.42 4.7 5.47 7.4
5.52 4.4 5.57 6.5 5.62 4.9 5.67 5.7 5.72 8.0 5.77 4.5 5.82 6.9 5.87 4.2 5.92 7.3 5.97 5.2
6.02 4.5 6.07 7.5 6.12 4.8 6.17 6.1 6.22 8.6 6.27 4.3 6.32 6.8 6.37 5.3 6.42 7.7 6.47 4.6
6.52 5.0 6.57 7.9 6.62 4.7 6.67 6.2 6.72 8.8 6.77 5.3 6.82 6.9 6.87 4.8 6.92 8.1 6.97 5.6
7.02 5.1 7.07 8.2 7.12 5.5 7.17 6.6 7.22 4.9 7.27 9.1 7.32 5.8 7.37 7.2 7.42 5.2 7.47 8.4
7.52 6.3 7.57 8.9 7.62 5.6 7.67 7.4 7.72 6.0 7.77 9.6 7.82 6.8 7.87 5.9 7.92 8.1 7.97 6.5
8.02 6.2 8.07 8.8 8.12 5.8 8.17 7.1 8.22 6.4 8.27 9.4 8.32 6.0 8.37 7.6 8.42 5.7 8.47 8.5
8.52 5.4 8.57 7.8 8.62 5.0 8.67 6.4 8.72 8.3 8.77 5.5 8.82 6.9 8.87 4.9 8.92 7.5 8.97 5.7
9.02 5.3 9.07 8.1 9.12 4.8 9.17 6.3 9.22 5.6 9.27 9.0 9.32 5.1 9.37 7.2 9.42 4.6 9.47 6.6
9.52 5.4 9.57 8.4 9.62 4.9 9.67 6.8 9.72 5.7 9.77 9.3 9.82 5.2 9.87 7.0 9.92 4.7 9.97 6.2
"""
samples = np.array((samples_txt + dense_txt + mid_txt).split(), dtype=float).reshape(-1, 2)
x_train = samples[:, 0]
y_train = samples[:, 1]

band_color = '#dedede'
axis_color = '#262626'

fig = plt.figure(figsize=(11.52, 6.23), dpi=100)
ax = fig.add_axes([0.0495, 0.0867, 0.9505, 0.7737])

# 95% band
ax.fill_between(x_grid, lower, upper, facecolor=band_color, edgecolor='none', zorder=1)
ax.plot(x_grid, upper, color='black', lw=0.9, zorder=2)
ax.plot(x_grid, lower, color='black', lw=0.9, zorder=2)

# sample paths
for c, ys in paths_left:
    ax.plot(x_left, ys, color=c, lw=0.8, zorder=3)
for c, ys in paths_right:
    ax.plot(x_right, ys, color=c, lw=0.8, zorder=3)

ax.scatter(x_train, y_train, s=14, color='#0000ff', edgecolors='none', zorder=4)

ax.plot(x_grid, mean, color='#ff0000', lw=4.3, zorder=5, solid_capstyle='butt')
ax.plot(x_grid, median, color='#00ff00', lw=4.3, zorder=6, solid_capstyle='butt')

ax.set_xlim(-11.79, 11.73)
ax.set_ylim(0, 50)

xt = [-10, -8, -6, -4, -2, 0, 2, 4, 6, 8, 10]
yt = [0, 5, 10, 15, 20, 25, 30, 35, 40, 45, 50]
ax.set_xticks(xt)
ax.set_xticklabels([str(v) for v in xt])
ax.set_yticks(yt)
ax.set_yticklabels([str(v) for v in yt])
ax.tick_params(axis='x', direction='in', length=6.5, width=0.8, color=axis_color,
               labelsize=9, labelcolor='#404040', pad=7)
ax.tick_params(axis='y', direction='in', length=8, width=0.8, color=axis_color,
               labelsize=9, labelcolor='#404040', pad=3)

for side in ['top', 'right']:
    ax.spines[side].set_visible(False)
for side in ['left', 'bottom']:
    ax.spines[side].set_color(axis_color)
    ax.spines[side].set_linewidth(0.8)

ax.set_xlabel('$x$', fontsize=21, labelpad=5)
ax.set_ylabel('$y$', fontsize=21, labelpad=6)

handles = [
    Patch(facecolor=band_color, edgecolor='#444444', linewidth=0.8),
    Line2D([], [], color='#ff0000', lw=4),
    Line2D([], [], color='#00ff00', lw=4),
    Line2D([], [], color='#0000ff', marker='.', markersize=5, lw=0),
]
labels = ['95%', 'Mean', 'Median', 'Training Samples']
leg = fig.legend(handles, labels, loc='upper center', bbox_to_anchor=(0.505, 1.0),
                 ncol=4, fontsize=21, frameon=True, fancybox=False,
                 edgecolor='black', framealpha=1, handlelength=1.3,
                 handleheight=1.0, handletextpad=0.15, columnspacing=0.3,
                 borderpad=0.25, borderaxespad=0.0)
leg.get_frame().set_linewidth(0.9)

fig.savefig('out.png', dpi=100)
